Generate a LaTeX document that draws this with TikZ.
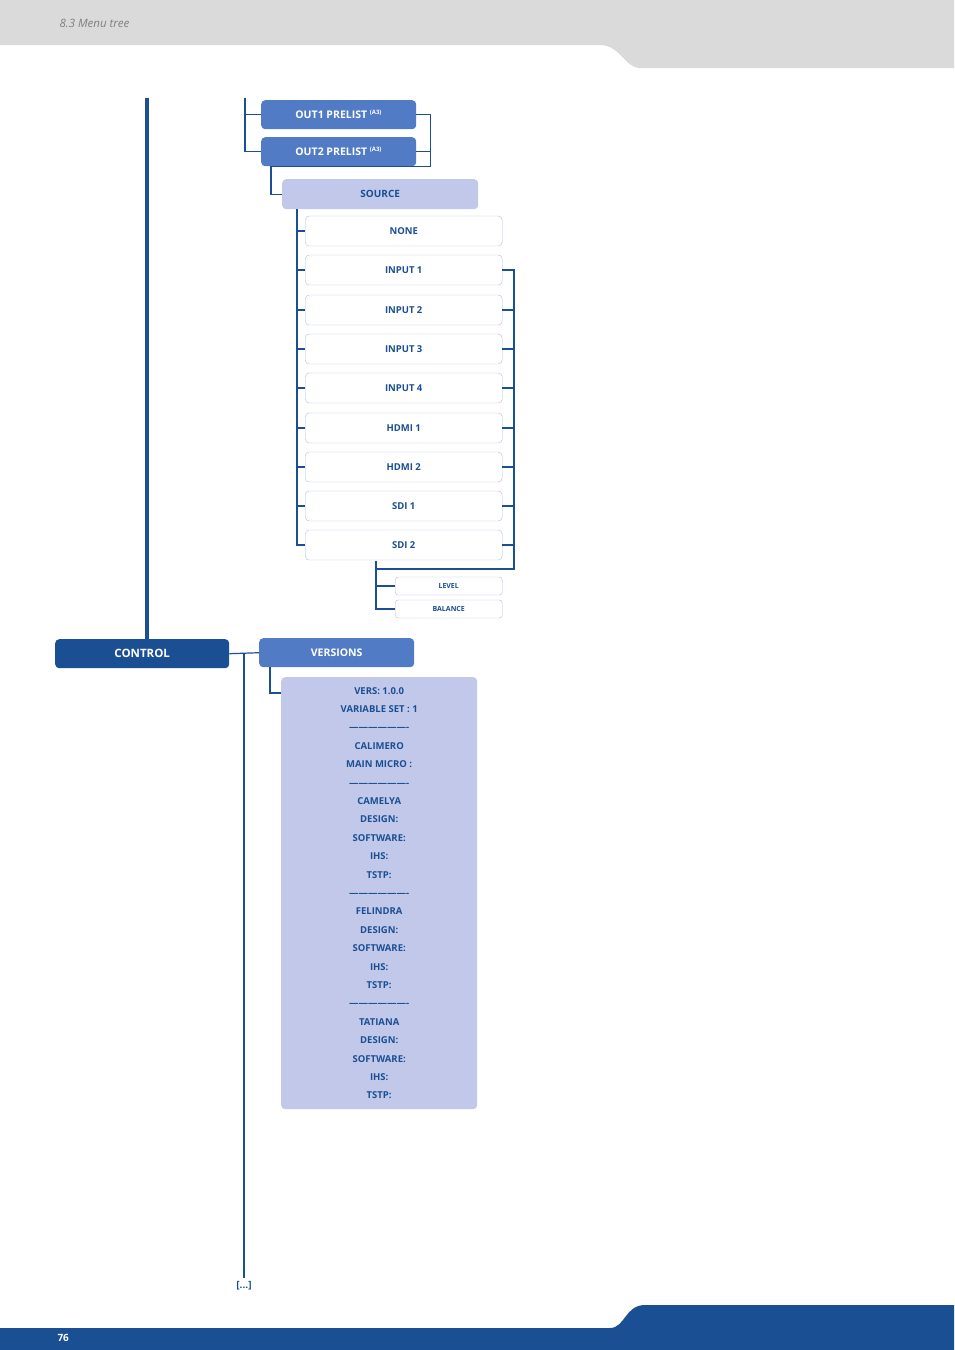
\documentclass[tikz,border=0pt]{standalone}
\usepackage{fontspec}
\setmainfont{Open Sans}
\definecolor{dblue}{HTML}{1A4F93}
\definecolor{mblue}{HTML}{527BC6}
\definecolor{lblue}{HTML}{C1C8EA}
\definecolor{bord}{HTML}{AEBCE6}
\definecolor{hgrey}{HTML}{DADADA}
\begin{document}
\begin{tikzpicture}[x=1pt,y=-1pt,
 lnk/.style={draw=dblue,line width=1.2pt},
 mbox/.style={fill=mblue,rounded corners=4pt,text=white,font=\bfseries\fontsize{10.5}{12}\selectfont,minimum width=155pt,minimum height=29pt,anchor=north west,inner sep=0},
 sbox/.style={fill=lblue,rounded corners=4pt,text=dblue,font=\bfseries\fontsize{10}{12}\selectfont,minimum width=196pt,minimum height=30pt,anchor=north west,inner sep=0},
 ibox/.style={draw=bord,fill=white,rounded corners=4pt,text=dblue,font=\bfseries\fontsize{9.5}{12}\selectfont,minimum width=197pt,minimum height=30pt,anchor=west,inner sep=0},
 tbox/.style={draw=bord,fill=white,rounded corners=3pt,text=dblue,font=\bfseries\fontsize{7}{9}\selectfont,minimum width=107pt,minimum height=18pt,anchor=west,inner sep=0}]
\useasboundingbox (0,0) rectangle (954,1350);
% header
\fill[hgrey] (0,0) -- (954,0) -- (954,68) -- (640,68) .. controls (625,68) and (620,45) .. (600,45) -- (0,45) -- cycle;
\node[anchor=west,text=gray,font=\itshape\fontsize{11.5}{13}\selectfont] (hdr) at (56,23) {8.3 Menu tree};
% footer
\fill[dblue] (0,1328) -- (610,1328) .. controls (625,1328) and (625,1305) .. (645,1305) -- (954,1305) -- (954,1350) -- (0,1350) -- cycle;
\node[anchor=west,text=white,font=\bfseries\fontsize{10}{12}\selectfont] (pg) at (54,1338) {76};
% nodes
\node[mbox] (o1) at (261,100) {OUT1 PRELIST \textsuperscript{\fontsize{6}{7}\selectfont(A3)}};
\node[mbox] (o2) at (261,137) {OUT2 PRELIST \textsuperscript{\fontsize{6}{7}\selectfont(A3)}};
\node[sbox] (src) at (282,179) {SOURCE};
\foreach \n/\t/\y in {none/NONE/231,i1/INPUT 1/270,i2/INPUT 2/310,i3/INPUT 3/349,i4/INPUT 4/388,h1/HDMI 1/428,h2/HDMI 2/467,s1/SDI 1/506,s2/SDI 2/545}
  \node[ibox] (\n) at (305,\y) {\t};
\node[tbox] (lev) at (395,586) {LEVEL};
\node[tbox] (bal) at (395,609) {BALANCE};
\node[fill=dblue,rounded corners=4pt,text=white,font=\bfseries\fontsize{11.5}{13}\selectfont,minimum width=174pt,minimum height=29pt,inner sep=0,anchor=north west] (ctl) at (55,639) {CONTROL};
\node[mbox] (ver) at (259,638) {VERSIONS};
\node[fill=lblue,rounded corners=4pt,text=dblue,font=\bfseries\fontsize{9.5}{18.4}\selectfont,minimum width=196pt,minimum height=432pt,inner sep=0,anchor=north west,align=center] (vb) at (281,677) {VERS: 1.0.0\\VARIABLE SET : 1\\-------------------\\CALIMERO\\MAIN MICRO :\\-------------------\\CAMELYA\\DESIGN:\\SOFTWARE:\\IHS:\\TSTP:\\-------------------\\FELINDRA\\DESIGN:\\SOFTWARE:\\IHS:\\TSTP:\\-------------------\\TATIANA\\DESIGN:\\SOFTWARE:\\IHS:\\TSTP:};
\node[text=dblue,font=\bfseries\fontsize{10}{12}\selectfont] (dots) at (244,1286) {[...]};
% connectors
\coordinate (topL) at (147,98);
\draw[draw=dblue,line width=3.5pt] (topL) -- (ctl.north -| topL);
\coordinate (t2) at (245,98);
\draw[lnk] (t2) |- (o2.west);
\draw[lnk] (t2 |- o1.west) -- (o1.west);
\draw[lnk] (o1.east) -- ++(14,0) coordinate (rr) |- ([xshift=10pt]o2.south west) coordinate (bl) -- ++(0,8);
\draw[lnk] (o2.east) -- (rr |- o2.east);
\draw[lnk] (271,171) |- (src.west);
\draw[lnk] (297,209) |- (s2.west);
\foreach \n in {none,i1,i2,i3,i4,h1,h2,s1} \draw[lnk] (297,0 |- \n.west) -- (\n.west);
\draw[lnk] (i1.east) -- (514,270) -- (514,569) -- (376,569);
\foreach \n in {i2,i3,i4,h1,h2,s1,s2} \draw[lnk] (\n.east) -- (514,0 |- \n.east);
\draw[lnk] (376,561) |- (bal.west);
\draw[lnk] (376,586) -- (lev.west);
\draw[lnk] (ctl.east) -- (ver.west);
\draw[lnk] (244,653) -- (dots.north);
\draw[lnk] (270,667) |- (281,693);
\end{tikzpicture}
\end{document}
